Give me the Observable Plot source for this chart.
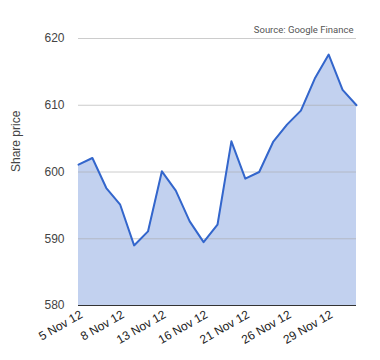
<!DOCTYPE html>
<html>
<head>
<meta charset="utf-8">
<script src="https://cdn.jsdelivr.net/npm/d3@7"></script>
<script src="https://cdn.jsdelivr.net/npm/@observablehq/plot@0.6"></script>
<style>
  html, body { margin: 0; padding: 0; background: #fff; }
  #chart svg { display: block; }
</style>
</head>
<body>
<div id="chart"></div>
<script>
const dates = ["5 Nov 12","6 Nov 12","7 Nov 12","8 Nov 12","9 Nov 12","12 Nov 12","13 Nov 12","14 Nov 12","15 Nov 12","16 Nov 12","19 Nov 12","20 Nov 12","21 Nov 12","22 Nov 12","23 Nov 12","26 Nov 12","27 Nov 12","28 Nov 12","29 Nov 12","30 Nov 12","3 Dec 12"];
const prices = [601.1, 602.1, 597.6, 595.1, 589.0, 591.1, 600.1, 597.2, 592.6, 589.5, 592.1, 604.6, 599.0, 600.0, 604.5, 607.1, 609.2, 614.0, 617.6, 612.3, 610.0];
const yTicks = [580, 590, 600, 610, 620];
const xTickIdx = [0, 3, 6, 9, 12, 15, 18];
const yLabel = "Share price";
const source = "Source: Google Finance";

const data = dates.map((d, i) => ({i, date: d, price: prices[i]}));

const chart = Plot.plot({
  width: 380,
  height: 360,
  marginLeft: 78,
  marginRight: 24,
  marginTop: 38,
  marginBottom: 55,
  style: {fontFamily: "Liberation Sans, Arial, sans-serif", fontSize: "12px", color: "#444", background: "#fff"},
  x: {domain: [0, dates.length - 1], label: null},
  y: {domain: [580, 620], label: null},
  marks: [
    Plot.areaY(data, {x: "i", y1: 580, y2: "price", fill: "#c2d1ef", fillOpacity: 1}),
    Plot.ruleY(yTicks, {stroke: "#aaa", strokeOpacity: 0.6, strokeWidth: 1}),
    Plot.lineY(data, {x: "i", y: "price", stroke: "#3366cc", strokeWidth: 2}),
    Plot.ruleY([580], {stroke: "#333", strokeWidth: 1}),
    Plot.axisY({ticks: yTicks, tickSize: 0, tickPadding: 14, fontSize: 12, fill: "#444", label: null}),
    Plot.axisX({ticks: xTickIdx, tickFormat: i => dates[i], tickRotate: -30, tickSize: 0, tickPadding: 8, dx: 3, fontSize: 12, fill: "#222", label: null}),
    Plot.text([yLabel], {frameAnchor: "left", dx: -62, rotate: -90, fontSize: 12, fill: "#444"}),
    Plot.text([source], {frameAnchor: "top-right", dy: -12, dx: -3, textAnchor: "end", fontSize: 9.5, fill: "#555", fontFamily: "Roboto, sans-serif", style: "letter-spacing:0.2px"})
  ]
});
document.getElementById("chart").appendChild(chart);
</script>
</body>
</html>
